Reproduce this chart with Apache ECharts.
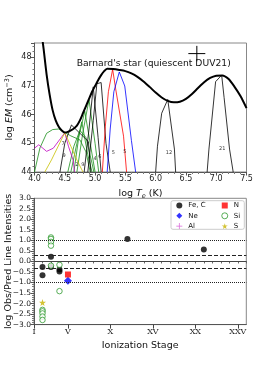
<!DOCTYPE html>
<html><head><meta charset="utf-8">
<script src="https://cdn.jsdelivr.net/npm/echarts@6/dist/echarts.min.js"></script>
<style>html,body{margin:0;padding:0;background:#fff}#c{width:274px;height:366px}</style>
</head><body><div id="c"></div>
<script>
// ---------- Top panel: emission measure distribution ----------
const emT   = [4.12,4.15,4.20,4.25,4.30,4.35,4.40,4.45,4.50,4.55,4.60,4.65,4.70,4.75,4.80,4.85,4.90,4.95,5.00,5.05,5.10,5.15,5.20,5.30,5.40,5.50,5.60,5.70,5.80,5.90,6.00,6.10,6.20,6.30,6.40,6.50,6.60,6.70,6.80,6.90,7.00,7.10,7.20,7.30,7.40,7.50];
const emVal = [48.8,48.3,47.4,46.7,46.15,45.8,45.58,45.45,45.38,45.40,45.45,45.52,45.62,45.80,46.05,46.30,46.55,46.80,47.00,47.20,47.38,47.52,47.60,47.59,47.56,47.52,47.44,47.32,47.16,46.97,46.77,46.60,46.48,46.43,46.45,46.55,46.72,46.93,47.13,47.28,47.36,47.37,47.25,46.98,46.65,46.23];

// contribution functions (log T, log EM) per colour group
const cfGreen = [
  [[4.0,44.0],[4.09,44.84],[4.2,45.35],[4.3,45.48],[4.4,45.5],[4.5,45.38],[4.6,45.26],[4.75,45.12],[4.85,44.7],[4.92,44.0]],
  [[4.55,44.0],[4.65,44.9],[4.75,45.45],[4.85,45.2],[4.95,44.3],[4.98,44.0]],
  [[4.6,44.0],[4.7,45.0],[4.78,45.75],[4.88,44.6],[4.95,44.0]],
  [[4.65,44.0],[4.73,45.2],[4.83,46.12],[4.92,45.0],[5.0,44.0]],
  [[4.7,44.0],[4.8,45.4],[4.9,46.52],[5.0,45.0],[5.06,44.0]]
];
const cfBlack = [
  [[4.42,44.0],[4.5,45.0],[4.61,45.64],[4.75,45.35],[4.89,45.06],[4.93,44.0]],
  [[4.82,44.0],[4.9,45.5],[4.97,46.97],[5.05,45.2],[5.1,44.0]],
  [[4.88,44.0],[4.97,45.8],[5.03,47.08],[5.1,47.12],[5.18,45.0],[5.25,44.0]],
  [[6.0,44.0],[6.03,44.9],[6.1,46.05],[6.2,46.53],[6.31,44.8],[6.33,44.0]],
  [[6.85,44.0],[6.88,44.8],[6.99,47.15],[7.09,47.38],[7.13,46.6],[7.22,44.8],[7.28,44.0]]
];
const cfRed     = [[5.12,44.0],[5.17,45.6],[5.22,46.8],[5.29,47.58],[5.34,46.9],[5.47,45.25],[5.52,44.0]];
const cfBlue    = [[5.2,44.0],[5.25,45.5],[5.31,46.8],[5.4,47.49],[5.49,47.0],[5.6,45.1],[5.67,44.0]];
const cfMagenta = [[4.0,44.83],[4.07,44.95],[4.2,44.72],[4.31,44.83],[4.5,45.37],[4.56,44.9],[4.64,44.4],[4.66,44.0]];
const cfYellow  = [[4.17,44.0],[4.28,44.42],[4.5,45.37],[4.6,44.9],[4.7,44.42],[4.8,44.0]];

// small ion-stage labels on the contribution functions
const cfLabelT    = [4.47,4.49,4.70,4.80,5.00,5.08,5.30,5.49,6.22,7.10];
const cfLabelEM   = [44.98,44.56,44.25,44.25,44.45,44.55,44.69,44.70,44.69,44.83];
const cfLabelText = ['7','9','2','9','4','6','5','5','12','21'];

// error cross (upper right)
const errT = 6.68, errEM = 48.13, errDT = 0.14, errDEM = 0.27;

// ---------- Bottom panel: Obs/Pred ratios vs ionization stage ----------
const feStage = [2,2,3,3,4,4,12,21];
const feVal   = [-0.26,-0.65,0.22,-0.26,-0.38,-0.48,1.07,0.57];
const nStage  = [5];
const nVal    = [-0.62];
const neStage = [5];
const neVal   = [-0.92];
const siStage = [2,2,2,2,2,3,3,3,3,3,4,4];
const siVal   = [-2.3,-2.37,-2.47,-2.62,-2.78,1.14,1.07,0.93,0.75,-0.2,-0.16,-1.41];
const sStage  = [2];
const sVal    = [-1.95];
const alStage = [];
const alVal   = [];
const refLevels = [0, 0.3, -0.3, 1.0, -1.0];
const refTypes  = ['solid','dashed','dashed','dotted','dotted'];
const romanTicks  = [1,5,10,15,20,25];
const romanLabels = ['I','V','X','XV','XX','XXV'];

const F = 'DejaVu Sans';
const minus = s => s.replace('-', '\u2212');
const zip = (a,b) => a.map((v,i)=>[v,b[i]]);

const series = [];
const cfLine = (pts,color) => ({type:'line', xAxisIndex:0, yAxisIndex:0, data:pts, symbol:'none', clip:true,
  lineStyle:{color, width:0.8}, silent:true, z:2});
cfGreen.forEach(p=>series.push(cfLine(p,'#1a8f1a')));
cfBlack.forEach(p=>series.push(cfLine(p,'#000')));
series.push(cfLine(cfMagenta,'#c000c0'));
series.push(cfLine(cfYellow,'#c8c000'));
series.push(cfLine(cfRed,'#ff0000'));
series.push(cfLine(cfBlue,'#0000ff'));
series.push({type:'line', xAxisIndex:0, yAxisIndex:0, data:zip(emT,emVal), smooth:0.25, symbol:'none', clip:true,
  lineStyle:{color:'#000', width:2}, z:5, silent:true});
series.push({type:'line', xAxisIndex:0, yAxisIndex:0, symbol:'none', connectNulls:false, silent:true,
  data:[[errT-errDT,errEM],[errT+errDT,errEM],'-',[errT,errEM-errDEM],[errT,errEM+errDEM]],
  lineStyle:{color:'#000', width:1}});
series.push({type:'scatter', xAxisIndex:0, yAxisIndex:0, symbolSize:0, silent:true,
  data:cfLabelT.map((t,i)=>[t,cfLabelEM[i],cfLabelText[i]]),
  label:{show:true, position:'inside', formatter:p=>p.value[2], fontSize:5, color:'#000', fontFamily:F}});

const starPath = 'path://M50,0 L61,35 L98,35 L68,57 L79,91 L50,70 L21,91 L32,57 L2,35 L39,35 Z';
const plusPath = 'path://M44,0 h12 v44 h44 v12 h-44 v44 h-12 v-44 h-44 v-12 h44 z';
const sc = (name,st,val,symbol,size,color) => ({name, type:'scatter', xAxisIndex:2, yAxisIndex:1,
  data:zip(st,val), symbol, symbolSize:size, itemStyle:{color}, z:4});
const feSeries = sc('Fe, C',feStage,feVal,'circle',6,'#000');
feSeries.markLine = {silent:true, symbol:'none', animation:false, label:{show:false},
  data: refLevels.map((v,i)=>({yAxis:v, lineStyle:{type:refTypes[i], color: i===0?'#444':'#222', width: i===0?1.2:1}}))};
series.push(feSeries);
series.push(sc('Ne',neStage,neVal,'diamond',8,'#0000ff'));
series.push(sc('Al',alStage,alVal,plusPath,7,'#d040d0'));
series.push(sc('N',nStage,nVal,'rect',6,'#ff0000'));
const siSeries = sc('Si',siStage,siVal,'circle',5.5,'#1a8f1a');
siSeries.itemStyle = {color:'#fff', borderColor:'#1a8f1a', borderWidth:0.9};
series.push(siSeries);
series.push(sc('S',sStage,sVal,starPath,7,'#c8b400'));

const axisTxt = {fontSize:8, color:'#222', fontFamily:F};
const option = {
  animation:false,
  backgroundColor:'#fff',
  textStyle:{fontFamily:F},
  grid:[
    {left:34.5, right:27.5, top:43, height:129, show:true, borderColor:'#888', borderWidth:1, containLabel:false, outerBoundsMode:'none'},
    {left:34, right:27.7, top:198.3, height:126.3, show:true, borderColor:'#888', borderWidth:1, containLabel:false, outerBoundsMode:'none'}
  ],
  xAxis:[
    {gridIndex:0, type:'value', min:4.0, max:7.5, interval:0.5,
      axisLine:{lineStyle:{color:'#555'}}, splitLine:{show:false},
      axisTick:{length:3.5, lineStyle:{color:'#555'}}, minorTick:{show:true, splitNumber:5, length:2, lineStyle:{color:'#777'}},
      axisLabel:{...axisTxt, margin:3, formatter:v=>v.toFixed(1)},
      name:'{n|log }{i|T}{s|e}{n| (K)}', nameLocation:'middle', nameGap:16, nameMoveOverlap:false,
      nameTextStyle:{rich:{n:{fontSize:9.5,fontFamily:F,color:'#111'}, i:{fontSize:9.5,fontStyle:'italic',fontFamily:F,color:'#111'}, s:{fontSize:6.5,fontStyle:'italic',fontFamily:F,color:'#111',padding:[5,0,0,0]}}}},
    {gridIndex:1, type:'value', min:1, max:26, interval:1, position:'bottom',
      axisLine:{lineStyle:{color:'#555'}}, splitLine:{show:false},
      axisTick:{length:2, lineStyle:{color:'#666'}}, axisLabel:{show:false}},
    {gridIndex:1, type:'value', min:1, max:26, position:'bottom',
      axisLine:{lineStyle:{color:'#555'}}, splitLine:{show:false},
      axisTick:{length:4, customValues:romanTicks, lineStyle:{color:'#444'}},
      axisLabel:{customValues:romanTicks, formatter:v=>romanLabels[romanTicks.indexOf(v)]||'',
        fontFamily:'DejaVu Serif', fontSize:8, color:'#222', margin:3},
      name:'Ionization Stage', nameLocation:'middle', nameGap:16, nameMoveOverlap:false,
      nameTextStyle:{fontSize:9.5, color:'#111', fontFamily:F}}
  ],
  yAxis:[
    {gridIndex:0, type:'value', min:44, max:48.5, interval:1,
      axisLine:{show:true, lineStyle:{color:'#555'}}, splitLine:{show:false},
      axisTick:{length:3.5, lineStyle:{color:'#555'}}, minorTick:{show:true, splitNumber:5, length:2, lineStyle:{color:'#777'}},
      axisLabel:{...axisTxt, margin:3, showMaxLabel:false, formatter:v=>Number.isInteger(v)?String(v):''},
      name:'{n|log }{i|EM}{n| (cm}{s|\u22123}{n|)}', nameLocation:'middle', nameGap:18, nameRotate:90, nameMoveOverlap:false,
      nameTextStyle:{rich:{n:{fontSize:9.5,fontFamily:F,color:'#111'}, i:{fontSize:9.5,fontStyle:'italic',fontFamily:F,color:'#111'}, s:{fontSize:6.5,fontFamily:F,color:'#111',padding:[0,0,6,0]}}}},
    {gridIndex:1, type:'value', min:-3, max:3, interval:0.5,
      axisLine:{show:true, lineStyle:{color:'#555'}}, splitLine:{show:false},
      axisTick:{length:3.5, lineStyle:{color:'#555'}}, minorTick:{show:true, splitNumber:5, length:2, lineStyle:{color:'#777'}},
      axisLabel:{...axisTxt, fontSize:7.5, margin:3, formatter:v=>minus(v.toFixed(1))},
      name:'log Obs/Pred Line Intensities', nameLocation:'middle', nameGap:20.5, nameRotate:90, nameMoveOverlap:false,
      nameTextStyle:{fontSize:9.5, color:'#111', fontFamily:F}}
  ],
  legend:[
    {data:['Fe, C','Ne','Al'], orient:'vertical', left:176.3, top:202, padding:0, itemWidth:6, itemHeight:6, itemGap:3.3,
      textStyle:{fontSize:7, color:'#111', fontFamily:F, padding:[0,0,0,1]}},
    {data:['N',{name:'Si', itemStyle:{color:'#fff', borderColor:'#1a8f1a', borderWidth:0.9}},'S'], orient:'vertical', left:221.3, top:202, padding:0, itemWidth:6, itemHeight:6, itemGap:3.3,
      textStyle:{fontSize:7, color:'#111', fontFamily:F, padding:[0,0,0,1]}}
  ],
  graphic:[
    {type:'rect', shape:{x:171, y:200.7, width:73.3, height:28.6, r:2}, style:{fill:'rgba(255,255,255,0.8)', stroke:'#ccc', lineWidth:1}, z:1},
    {type:'text', x:153.7, y:63.3, style:{text:"Barnard's star (quiescent DUV21)", fontSize:9.2, fontFamily:F, fill:'#111', align:'center', verticalAlign:'middle', textAlign:'center', textVerticalAlign:'middle'}, z:10}
  ],
  series
};
const chart = echarts.init(document.getElementById('c'), null, {renderer:'canvas'});
chart.setOption(option);
</script>
</body></html>
